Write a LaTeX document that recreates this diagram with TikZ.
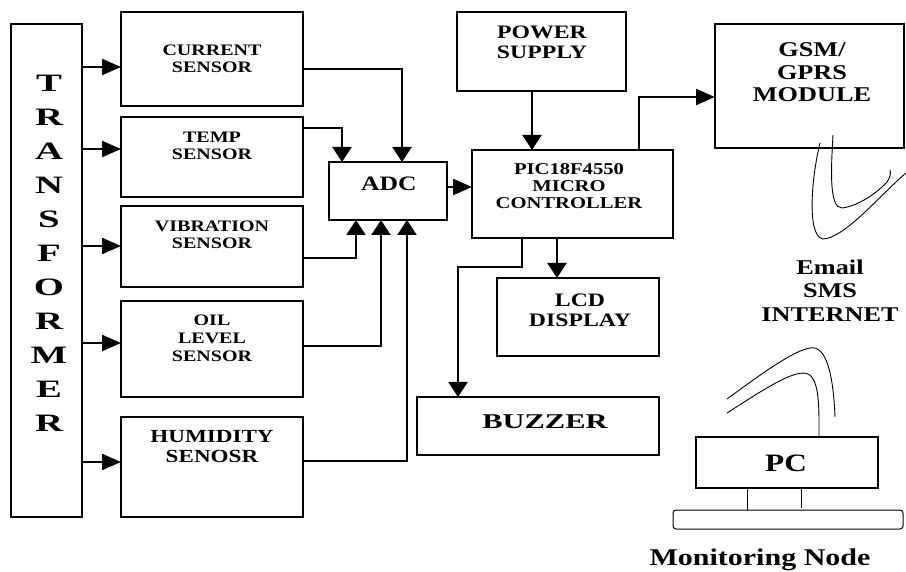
\documentclass[tikz,border=0pt]{standalone}
\usepackage{fontspec}
\setmainfont{Liberation Serif}[FakeStretch=1.25]
\newfontfamily\widef{Liberation Serif}[FakeStretch=1.55]
\newfontfamily\buzf{Liberation Serif}[FakeStretch=1.45]
\usetikzlibrary{arrows.meta}
\newcommand{\fs}[2]{\fontsize{#1}{#2}\selectfont\bfseries}
\begin{document}
\begin{tikzpicture}[x=1pt,y=-1pt,
  box/.style={draw, line width=1.3pt, inner sep=0pt, outer sep=0pt},
  lbl/.style={align=center, inner sep=0pt},
  harr/.style={line width=2.2pt, -{Triangle[length=19pt,width=16pt]}},
  varr/.style={line width=2.2pt, -{Triangle[length=15pt,width=19pt]}},
  wire/.style={line width=0.9pt}]
\useasboundingbox (0,0) rectangle (906,572);
% boxes
\node[box, minimum width=71pt, minimum height=493pt] (tr) at (46.5,270.5) {};
\node[box, minimum width=182pt, minimum height=94pt] (cur) at (212,59) {};
\node[box, minimum width=182pt, minimum height=80pt] (temp) at (212,157) {};
\node[box, minimum width=182pt, minimum height=81pt] (vib) at (212,246.5) {};
\node[box, minimum width=182pt, minimum height=96pt] (oil) at (212,349) {};
\node[box, minimum width=182pt, minimum height=100pt] (hum) at (212,467) {};
\node[box, minimum width=118pt, minimum height=58pt] (adc) at (388,191) {};
\node[box, minimum width=169pt, minimum height=79pt] (ps) at (541.5,51.5) {};
\node[box, minimum width=201pt, minimum height=88pt] (pic) at (572.5,194) {};
\node[box, minimum width=189pt, minimum height=124pt] (gsm) at (809.5,86) {};
\node[box, minimum width=162pt, minimum height=78pt] (lcd) at (578,317) {};
\node[box, minimum width=242pt, minimum height=58pt] (buz) at (538,426) {};
\node[box, minimum width=182pt, minimum height=51pt] (pc) at (787,462.5) {};
\node[box, line width=1pt, rounded corners=3pt, minimum width=230pt, minimum height=19pt] (kb) at (788,519.5) {};
% texts
\node[lbl, font=\widef\fontsize{25}{34}\selectfont\bfseries] (trT) at (49,253) {T\\R\\A\\N\\S\\F\\O\\R\\M\\E\\R};
\node[lbl, font=\fs{16}{17}] (curT) at (212,58.5) {CURRENT\\SENSOR};
\node[lbl, font=\fs{16}{17}] (tempT) at (212,145.5) {TEMP\\SENSOR};
\node[lbl, font=\fs{16}{17}] (vibT) at (212,234.5) {VIBRATION\\SENSOR};
\node[lbl, font=\fs{16}{18}] (oilT) at (212,338) {OIL\\LEVEL\\SENSOR};
\node[lbl, font=\fs{18.5}{20}] (humT) at (212,447) {HUMIDITY\\SENOSR};
\node[lbl, font=\fs{20.5}{20}] (adcT) at (389,184) {ADC};
\node[lbl, font=\fs{19}{20}] (psT) at (542,42) {POWER\\SUPPLY};
\node[lbl, font=\fs{16.5}{17}] (picT) at (569,186) {PIC18F4550\\MICRO\\CONTROLLER};
\node[lbl, font=\fs{21}{22.5}] (gsmT) at (812,72.5) {GSM/\\GPRS\\MODULE};
\node[lbl, font=\fs{19}{20}] (lcdT) at (580,310) {LCD\\DISPLAY};
\node[lbl, font=\buzf\fontsize{21}{22}\selectfont\bfseries] (buzT) at (545,422) {BUZZER};
\node[lbl, font=\fs{21}{23.5}] (netT) at (830,290.5) {Email\\SMS\\INTERNET};
\node[lbl, font=\fs{25}{25}] (pcT) at (786,463) {PC};
\node[lbl, font=\fs{24}{25}, anchor=base] (monT) at (760,565) {Monitoring Node};
% transformer to sensors
\coordinate (s1) at ([yshift=-8pt]cur.west);
\coordinate (s2) at ([yshift=8pt]temp.west);
\coordinate (s3) at ([yshift=0.5pt]vib.west);
\coordinate (s4) at ([yshift=6pt]oil.west);
\coordinate (s5) at ([yshift=5pt]hum.west);
\foreach \s in {s1,s2,s3,s4,s5} \draw[harr] (tr.east |- \s) -- (\s);
% sensors to ADC
\coordinate (o1) at ([yshift=-10pt]cur.east);
\coordinate (o2) at ([yshift=29pt]temp.east);
\coordinate (o3) at ([yshift=-11.5pt]vib.east);
\coordinate (o4) at ([yshift=3pt]oil.east);
\coordinate (o5) at ([yshift=6pt]hum.east);
\draw[varr] (o1) -| ([xshift=14pt]adc.north);
\draw[varr] (o2) -| ([xshift=-46pt]adc.north);
\draw[varr] (o3) -| ([xshift=-32pt]adc.south);
\draw[varr] (o4) -| ([xshift=-7pt]adc.south);
\draw[varr] (o5) -| ([xshift=19pt]adc.south);
% ADC to PIC
\coordinate (ad) at ([yshift=4pt]adc.east);
\draw[harr] (ad) -- (pic.west |- ad);
% power to PIC
\coordinate (pw) at ([xshift=-9.5pt]ps.south);
\draw[varr] (pw) -- (pw |- pic.north);
% PIC to GSM
\coordinate (pg) at ([xshift=66.5pt]pic.north);
\coordinate (gi) at ([yshift=-11pt]gsm.west);
\draw[harr] (pg) |- (gi);
% PIC to LCD
\coordinate (pl) at ([xshift=-15.5pt]pic.south);
\draw[varr] (pl) -- (pl |- lcd.north);
% PIC to buzzer
\coordinate (pb) at ([xshift=-50.5pt]pic.south);
\coordinate (bi) at ([xshift=-80pt]buz.north);
\draw[varr] (pb) -- ++(0,29) -| (bi);
% antenna curves at GSM
\draw[wire] (820,143) .. controls (812,175) and (806,236) .. (823,239) .. controls (845,238) and (880,195) .. (906,173);
\draw[wire] (833,135) .. controls (831,170) and (829,208) .. (842,208) .. controls (860,206) and (880,190) .. (887,182) .. controls (890,178) and (891,173) .. (890,170);
% antenna curves at PC
\draw[wire] (727,399) .. controls (760,375) and (800,345) .. (815,348) .. controls (830,352) and (834,390) .. (835,417);
\draw[wire] (727,413) .. controls (760,392) and (795,368) .. (808,374) .. controls (820,380) and (819,410) .. (819,437);
% PC legs
\draw[wire] ([xshift=-40pt]pc.south) -- ([xshift=-40pt]pc.south |- kb.north);
\draw[wire] ([xshift=14pt]pc.south) -- ++(0,20);
\end{tikzpicture}
\end{document}
